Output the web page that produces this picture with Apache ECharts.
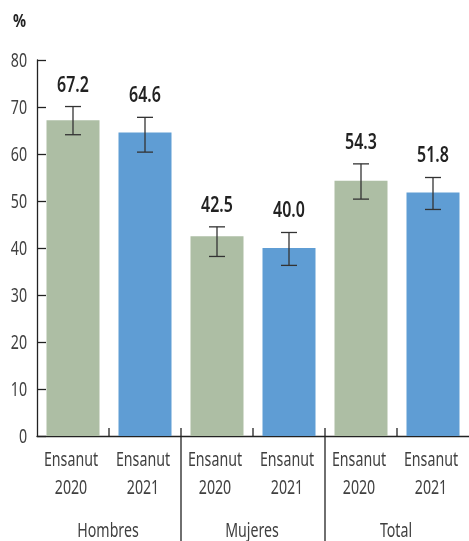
<!DOCTYPE html>
<html>
<head>
<meta charset="utf-8">
<script src="https://cdn.jsdelivr.net/npm/echarts@6/dist/echarts.min.js"></script>
<style>html,body{margin:0;padding:0;background:#fff;}#c{width:469px;height:541px;}</style>
</head>
<body>
<div id="c"></div>
<script>
var categories = ['Ensanut\n2020', 'Ensanut\n2021', 'Ensanut\n2020', 'Ensanut\n2021', 'Ensanut\n2020', 'Ensanut\n2021'];
var groups = ['Hombres', 'Mujeres', 'Total'];
var values = [67.2, 64.6, 42.5, 40.0, 54.3, 51.8];
var errLow = [64.1, 60.4, 38.2, 36.3, 50.4, 48.2];
var errHigh = [70.1, 67.8, 44.5, 43.3, 57.9, 55.0];
var yTicks = [0, 10, 20, 30, 40, 50, 60, 70, 80];
var unitLabel = '%';

var FONT = '"Noto Sans", sans-serif';
var TXT = '#404040';
var SX = 0.71;
var colors = ['#adbea4', '#5f9dd4'];
var chart = echarts.init(document.getElementById('c'), null, {renderer: 'canvas'});

function txt(str, x, y, size, weight, align, sx, fill) {
  return {type: 'text', x: x, y: y, scaleX: sx, scaleY: 1,
    style: {text: str, x: 0, y: 0, align: align, verticalAlign: 'middle',
      font: weight + ' ' + size + 'px ' + FONT, fill: fill || TXT}};
}

var errData = values.map(function (v, i) { return [i, errLow[i], errHigh[i], v]; });

chart.setOption({
  animation: false,
  backgroundColor: '#fff',
  grid: {left: 37, top: 60, width: 436, height: 376, containLabel: false},
  graphic: [txt(unitLabel, 13, 22, 17, 'bold', 'left', 0.85, '#222')],
  xAxis: {
    type: 'category', data: categories,
    axisLine: {lineStyle: {color: '#222', width: 1.3}},
    axisTick: {show: false},
    axisLabel: {show: false}
  },
  yAxis: {
    type: 'value', min: yTicks[0], max: yTicks[yTicks.length - 1], interval: 10,
    splitLine: {show: false},
    axisLine: {show: true, lineStyle: {color: '#222', width: 1.3}},
    axisTick: {show: true, inside: true, length: 9, lineStyle: {color: '#222', width: 1.3}},
    axisLabel: {show: false}
  },
  series: [
    {
      type: 'bar', barWidth: 53,
      data: values.map(function (v, i) { return {value: v, itemStyle: {color: colors[i % 2]}}; })
    },
    {
      // y-axis tick labels
      type: 'custom', clip: false, silent: true,
      data: yTicks.map(function (t) { return [0, t]; }),
      renderItem: function (params, api) {
        var p = api.coord([0, api.value(1)]);
        var bw = api.size([1, 0])[0];
        return txt(String(api.value(1)), p[0] - bw / 2 - 10, p[1] + 1, 20, 'normal', 'right', SX);
      }
    },
    {
      // x category labels, group labels and separators
      type: 'custom', clip: false, silent: true,
      data: categories.map(function (c, i) { return [i, 0]; }),
      renderItem: function (params, api) {
        var i = api.value(0);
        var base = api.coord([i, 0]);
        var bw = api.size([1, 0])[0];
        var lines = categories[i].split('\n');
        var children = [
          txt(lines[0], base[0] - 2, base[1] + 24, 20, 'normal', 'center', SX),
          txt(lines[1], base[0] - 2, base[1] + 52.5, 20, 'normal', 'center', SX)
        ];
        var bx = base[0] + bw / 2;
        if (i < categories.length - 1) {
          if (i % 2 === 0) {
            children.push({type: 'line', shape: {x1: bx, y1: base[1], x2: bx, y2: base[1] - 8}, style: {stroke: '#222', lineWidth: 1.3}});
            children.push(txt(groups[i / 2], bx - 1, base[1] + 95, 20, 'normal', 'center', SX));
          } else {
            children.push({type: 'line', shape: {x1: bx, y1: base[1] - 8, x2: bx, y2: base[1] + 110}, style: {stroke: '#222', lineWidth: 1.3}});
          }
        }
        return {type: 'group', children: children};
      }
    },
    {
      // error bars and value labels
      type: 'custom', clip: false, z: 10, silent: true,
      data: errData,
      renderItem: function (params, api) {
        var i = api.value(0);
        var lo = api.coord([i, api.value(1)]);
        var hi = api.coord([i, api.value(2)]);
        var cap = 8;
        var st = {stroke: '#333', lineWidth: 1.3};
        return {type: 'group', children: [
          {type: 'line', shape: {x1: hi[0], y1: hi[1], x2: lo[0], y2: lo[1]}, style: st},
          {type: 'line', shape: {x1: hi[0] - cap, y1: hi[1], x2: hi[0] + cap, y2: hi[1]}, style: st},
          {type: 'line', shape: {x1: lo[0] - cap, y1: lo[1], x2: lo[0] + cap, y2: lo[1]}, style: st},
          txt(api.value(3).toFixed(1), hi[0], hi[1] - 21, 21, '600', 'center', 0.76, '#222')
        ]};
      }
    }
  ]
});
</script>
</body>
</html>
